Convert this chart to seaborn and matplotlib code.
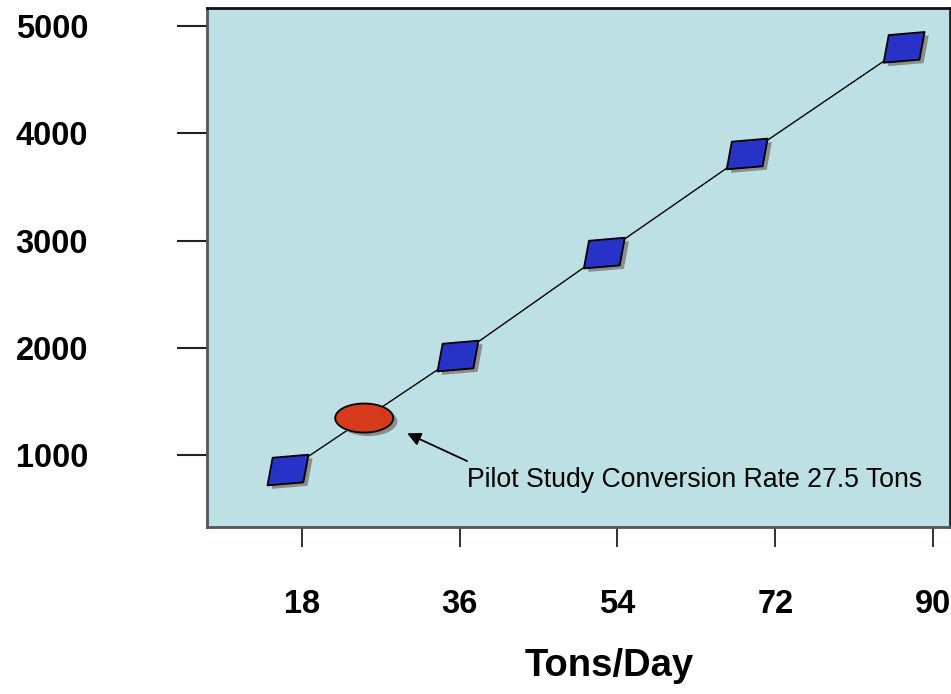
import numpy as np
import pandas as pd
import matplotlib
matplotlib.use("Agg")
import matplotlib.pyplot as plt
import matplotlib.patheffects as pe
from matplotlib.path import Path
import seaborn as sns

# ---- data ----
tons_day = [16.4, 35.8, 52.5, 68.8, 86.7]
rate = [860, 1923, 2883, 3807, 4801]
pilot_x = [25.1]
pilot_y = [1345]
x_ticks = [18, 36, 54, 72, 90]
y_ticks = [1000, 2000, 3000, 4000, 5000]
annot_text = "Pilot Study Conversion Rate 27.5 Tons"
x_label = "Tons/Day"

sns.set_style("ticks")
plt.rcParams["font.family"] = ["Liberation Sans", "DejaVu Sans"]
plt.rcParams["text.color"] = "black"
plt.rcParams["xtick.color"] = "black"
plt.rcParams["ytick.color"] = "black"
plt.rcParams["axes.labelcolor"] = "black"

fig = plt.figure(figsize=(9.51, 6.94), dpi=100)
ax = fig.add_axes([207 / 951, 1 - 527 / 694, 743 / 951, 519 / 694])
ax.set_facecolor("#BCE0E3")

df = pd.DataFrame({"x": tons_day, "y": rate})
pdf = pd.DataFrame({"x": pilot_x, "y": pilot_y})

sns.lineplot(data=df, x="x", y="y", ax=ax, color="black", lw=1.0, sort=False)

shadow = [pe.SimplePatchShadow(offset=(3.0, -2.5), shadow_rgbFace="#8c8c8c", alpha=1.0), pe.Normal()]

para = Path([(-15, 12), (20, 15), (15, -12), (-20, -15), (-15, 12)],
            [Path.MOVETO, Path.LINETO, Path.LINETO, Path.LINETO, Path.CLOSEPOLY])
sns.scatterplot(data=df, x="x", y="y", ax=ax, marker=para, s=29.5 ** 2,
                color="#2633C6", edgecolor="black", linewidth=1.3,
                path_effects=shadow, zorder=3)

t = np.linspace(0, 2 * np.pi, 80)
ell = Path(np.column_stack([np.cos(t), 0.5 * np.sin(t)]))
sns.scatterplot(data=pdf, x="x", y="y", ax=ax, marker=ell, s=41.8 ** 2,
                color="#D63A18", edgecolor="black", linewidth=1.3,
                path_effects=shadow, zorder=4)

ax.annotate("", xy=(30.0, 1202), xytext=(36.83, 944),
            arrowprops=dict(arrowstyle="-|>", color="black", lw=1.3,
                            mutation_scale=20, shrinkA=0, shrinkB=0))
ax.text(36.83, 704, annot_text, fontsize=19.2, va="baseline", ha="left", color="black")

ax.set_xlim(7.16, 91.94)
ax.set_ylim(329, 5168)
ax.set_xticks(x_ticks)
ax.set_xticklabels([str(v) for v in x_ticks])
ax.set_yticks(y_ticks)
ax.set_yticklabels([str(v) for v in y_ticks])
ax.tick_params(axis="x", length=14.4, width=1.3, pad=30, labelsize=23.5, color="#222222", labelcolor="black")
ax.tick_params(axis="y", length=21.6, width=1.5, pad=64, labelsize=23.5, color="#222222", labelcolor="black")
for lab in ax.get_xticklabels() + ax.get_yticklabels():
    lab.set_fontweight("bold")

ax.set_xlabel(x_label, fontsize=27.5, fontweight="bold", color="black")
ax.set_ylabel("")
ax.xaxis.set_label_coords((609 - 207) / 743, (527 - 666) / 519)
ax.xaxis.label.set_va("center")

for side, col in [("left", "#4E585A"), ("top", "#111111"), ("right", "#222222"), ("bottom", "#4E585A")]:
    ax.spines[side].set_visible(True)
    ax.spines[side].set_color(col)
    ax.spines[side].set_linewidth(2.0)

fig.savefig("out.png", dpi=100)
